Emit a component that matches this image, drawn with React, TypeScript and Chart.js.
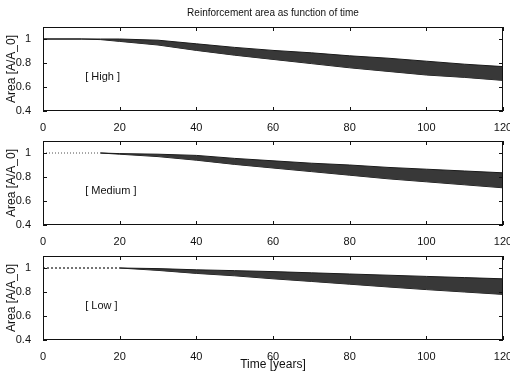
import React, { useEffect, useRef } from 'react';
import { Chart, registerables } from 'chart.js';

Chart.register(...registerables);

const years = [0, 10, 15, 20, 30, 40, 50, 60, 70, 80, 90, 100, 110, 120];
const highUpper = [1, 1, 1, 1, 0.99, 0.96, 0.93, 0.905, 0.885, 0.86, 0.84, 0.815, 0.79, 0.77];
const highLower = [1, 1, 0.995, 0.98, 0.95, 0.905, 0.865, 0.83, 0.795, 0.76, 0.73, 0.7, 0.68, 0.655];
const mediumUpper = [1, 1, 1, 0.995, 0.99, 0.98, 0.955, 0.935, 0.915, 0.9, 0.88, 0.865, 0.85, 0.835];
const mediumLower = [1, 1, 1, 0.99, 0.97, 0.94, 0.905, 0.875, 0.845, 0.815, 0.785, 0.76, 0.735, 0.71];
const lowUpper = [1, 1, 1, 1, 0.995, 0.985, 0.978, 0.97, 0.96, 0.95, 0.94, 0.93, 0.92, 0.91];
const lowLower = [1, 1, 1, 1, 0.98, 0.955, 0.935, 0.91, 0.888, 0.865, 0.842, 0.82, 0.8, 0.78];

const xTicks = [0, 20, 40, 60, 80, 100, 120];
const yTicks = [0.4, 0.6, 0.8, 1];
const panelLabels = ['[ High ]', '[ Medium ]', '[ Low ]'];
const flatUntil = [12, 15, 20];
const titleText = 'Reinforcement area as function of time';
const yTitleText = 'Area [A/A_0]';
const xTitleText = 'Time [years]';

const FONT = '"Liberation Sans", Arial, Helvetica, sans-serif';

type Panel = {
  upper: number[];
  lower: number[];
  label: string;
  flat: number;
  top: number;
  height: number;
  padTop: number;
  xAxisH: number;
  showTitle: boolean;
  showXTitle: boolean;
  dashed: number[] | null;
  flatColor: string;
};

const panels: Panel[] = [
  { upper: highUpper, lower: highLower, label: panelLabels[0], flat: flatUntil[0], top: 0, height: 131, padTop: 27, xAxisH: 20, showTitle: true, showXTitle: false, dashed: null, flatColor: '#111' },
  { upper: mediumUpper, lower: mediumLower, label: panelLabels[1], flat: flatUntil[1], top: 131, height: 114, padTop: 10, xAxisH: 20, showTitle: false, showXTitle: false, dashed: [1, 2], flatColor: '#888' },
  { upper: lowUpper, lower: lowLower, label: panelLabels[2], flat: flatUntil[2], top: 245, height: 129, padTop: 11, xAxisH: 34, showTitle: false, showXTitle: true, dashed: [2, 2], flatColor: '#444' },
];

function PanelChart({ p }: { p: Panel }) {
  const ref = useRef<HTMLCanvasElement | null>(null);
  useEffect(() => {
    if (!ref.current) return;
    const seg = {
      borderDash: (c: any) => (p.dashed && c.p1.parsed.x <= p.flat ? p.dashed : undefined),
      borderColor: (c: any) => (c.p1.parsed.x <= p.flat ? p.flatColor : undefined),
    };
    const framePlugin = {
      id: 'frame',
      afterDatasetsDraw(chart: any) {
        const { ctx, chartArea: a, scales } = chart;
        const x = scales.x;
        const y = scales.y;
        ctx.save();
        ctx.strokeStyle = '#111';
        ctx.lineWidth = 1;
        ctx.strokeRect(Math.round(a.left) + 0.5, Math.round(a.top) + 0.5, Math.round(a.width) - 1, Math.round(a.height) - 1);
        ctx.beginPath();
        const tl = 4;
        xTicks.forEach((v) => {
          const px = Math.round(x.getPixelForValue(v)) + 0.5;
          ctx.moveTo(px, a.bottom);
          ctx.lineTo(px, a.bottom - tl);
          ctx.moveTo(px, a.top);
          ctx.lineTo(px, a.top + tl);
        });
        yTicks.forEach((v) => {
          const py = Math.round(y.getPixelForValue(v)) + 0.5;
          ctx.moveTo(a.left, py);
          ctx.lineTo(a.left + tl, py);
          ctx.moveTo(a.right, py);
          ctx.lineTo(a.right - tl, py);
        });
        ctx.stroke();
        ctx.fillStyle = '#111';
        ctx.font = `11px ${FONT}`;
        ctx.textAlign = 'left';
        ctx.textBaseline = 'middle';
        ctx.fillText(p.label, x.getPixelForValue(11), y.getPixelForValue(0.68));
        // y title
        ctx.save();
        ctx.font = `12px ${FONT}`;
        ctx.translate(12, (a.top + a.bottom) / 2);
        ctx.rotate(-Math.PI / 2);
        ctx.textAlign = 'center';
        ctx.textBaseline = 'middle';
        ctx.fillText(yTitleText, 0, 0);
        ctx.restore();
        ctx.textAlign = 'center';
        if (p.showTitle) {
          ctx.font = `10px ${FONT}`;
          ctx.fillText(titleText, (a.left + a.right) / 2, 13);
        }
        if (p.showXTitle) {
          ctx.font = `12px ${FONT}`;
          ctx.fillText(xTitleText, (a.left + a.right) / 2, a.bottom + 25);
        }
        ctx.restore();
      },
    };
    const chart = new Chart(ref.current, {
      type: 'line',
      data: {
        datasets: [
          {
            data: years.map((t, i) => ({ x: t, y: p.upper[i] })),
            borderColor: '#1a1a1a',
            borderWidth: 1,
            backgroundColor: '#383838',
            fill: '+1',
            pointRadius: 0,
            tension: 0,
            segment: seg,
          },
          {
            data: years.map((t, i) => ({ x: t, y: p.lower[i] })),
            borderColor: '#1a1a1a',
            borderWidth: 1,
            fill: false,
            pointRadius: 0,
            tension: 0,
            segment: seg,
          },
        ],
      },
      options: {
        animation: false,
        responsive: false,
        maintainAspectRatio: false,
        events: [],
        layout: { padding: { top: p.padTop, right: 7, left: 0, bottom: 0 } },
        plugins: { legend: { display: false }, tooltip: { enabled: false }, title: { display: false } },
        scales: {
          x: {
            type: 'linear',
            min: 0,
            max: 120,
            grid: { display: false },
            border: { display: false },
            afterBuildTicks: (s: any) => {
              s.ticks = xTicks.map((v) => ({ value: v }));
            },
            afterFit: (s: any) => {
              s.height = p.xAxisH;
              s.paddingLeft = 0;
              s.paddingRight = 0;
            },
            ticks: {
              color: '#111',
              font: { family: FONT, size: 11 },
              padding: 2,
              maxRotation: 0,
              autoSkip: false,
              callback: (v: any) => String(v),
            },
          },
          y: {
            type: 'linear',
            min: 0.4,
            max: 1.1,
            grid: { display: false },
            border: { display: false },
            afterBuildTicks: (s: any) => {
              s.ticks = yTicks.map((v) => ({ value: v }));
            },
            afterFit: (s: any) => {
              s.width = 43;
              s.paddingTop = 0;
              s.paddingBottom = 0;
            },
            ticks: {
              color: '#111',
              font: { family: FONT, size: 11 },
              padding: 4,
              autoSkip: false,
              callback: (v: any) => (Math.abs(v - 1) < 1e-9 ? '1' : Number(v).toFixed(1)),
            },
          },
        },
      },
      plugins: [framePlugin],
    });
    return () => chart.destroy();
  }, [p]);
  return (
    <canvas
      ref={ref}
      width={510}
      height={p.height}
      style={{ position: 'absolute', left: 0, top: p.top, width: 510, height: p.height, display: 'block' }}
    />
  );
}

export default function App() {
  return (
    <div style={{ position: 'fixed', left: 0, top: 0, width: 510, height: 374, background: '#fff', overflow: 'hidden' }}>
      {panels.map((p, i) => (
        <PanelChart key={i} p={p} />
      ))}
    </div>
  );
}
